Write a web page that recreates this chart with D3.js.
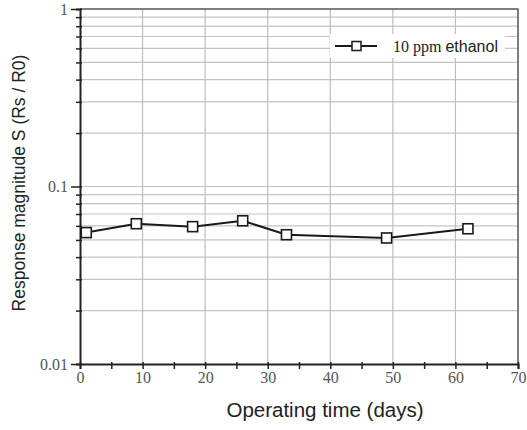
<!DOCTYPE html>
<html>
<head>
<meta charset="utf-8">
<script src="https://cdn.jsdelivr.net/npm/d3@7"></script>
<style>
  body { margin: 0; background: #fff; }
  svg { display: block; }
</style>
</head>
<body>
<svg id="chart" width="527" height="430"></svg>
<script>
// operating time (days) and response S = Rs/R0
const days = [1, 9, 18, 26, 33, 49, 62]
const response = [0.055, 0.0617, 0.0594, 0.0641, 0.0535, 0.0513, 0.0578]
const xTicks = [0, 10, 20, 30, 40, 50, 60, 70]
const yTicks = [0.01, 0.1, 1]
const seriesName = '10 ppm ethanol'

const margin = { top: 9, right: 9, bottom: 66, left: 80 }
const width = 527 - margin.left - margin.right
const height = 430 - margin.top - margin.bottom

const svg = d3
  .select('#chart')
  .append('g')
  .attr('transform', `translate(${margin.left}, ${margin.top})`)

const xScale = d3.scaleLinear().domain([0, 70]).range([0, width])
const yScale = d3.scaleLog().domain([0.01, 1]).range([height, 0])

// minor log values 0.02..0.09, 0.2..0.9
const minorY = []
;[0.01, 0.1].forEach(base => {
  for (let i = 2; i <= 9; i++) minorY.push(+(base * i).toFixed(3))
})
const gridY = minorY.concat([0.1])

// grid
svg
  .append('g')
  .selectAll('line')
  .data(gridY)
  .join('line')
  .attr('x1', 0)
  .attr('x2', width)
  .attr('y1', d => yScale(d))
  .attr('y2', d => yScale(d))
  .attr('stroke', '#c4c4c4')
  .attr('stroke-width', 1.2)

svg
  .append('g')
  .selectAll('line')
  .data(xTicks.slice(1, -1))
  .join('line')
  .attr('x1', d => xScale(d))
  .attr('x2', d => xScale(d))
  .attr('y1', 0)
  .attr('y2', height)
  .attr('stroke', '#bdbdbd')
  .attr('stroke-width', 1.2)

// frame (top and right)
svg
  .append('path')
  .attr('d', `M0,0H${width}V${height}`)
  .attr('fill', 'none')
  .attr('stroke', '#555')
  .attr('stroke-width', 1.5)

// legend background
const legend = svg.append('g').attr('transform', `translate(${335 - margin.left}, ${46 - margin.top})`)
legend
  .append('rect')
  .attr('x', -5)
  .attr('y', -12)
  .attr('width', 175)
  .attr('height', 24)
  .attr('fill', '#fff')

// axes
const xAxis = svg
  .append('g')
  .attr('transform', `translate(0, ${height})`)
  .call(
    d3
      .axisBottom(xScale)
      .tickValues(d3.range(0, 71, 5))
      .tickSize(5)
      .tickFormat(d => (d % 10 === 0 ? d : ''))
  )

const yAxis = svg.append('g').call(
  d3
    .axisLeft(yScale)
    .tickValues(yTicks.concat(minorY))
    .tickSize(4)
    .tickFormat(d => (yTicks.includes(d) ? d : ''))
)

;[xAxis, yAxis].forEach(ax => {
  ax.select('.domain').attr('stroke', '#222').attr('stroke-width', 2)
  ax.selectAll('.tick line').attr('stroke', '#222').attr('stroke-width', 1.5)
  ax.selectAll('text')
    .attr('font-family', '"Liberation Serif", "Times New Roman", serif')
    .attr('font-size', 16)
    .attr('fill', '#555')
})
xAxis.selectAll('.tick line').attr('y1', -2)
xAxis.selectAll('text').attr('y', 6).attr('dy', '0.8em')
yAxis.selectAll('.tick line').attr('x2', d => (yTicks.includes(d) ? -9 : -4)).attr('x1', 2)
yAxis.selectAll('text').attr('x', -12)

// series
const line = d3
  .line()
  .x((d, i) => xScale(days[i]))
  .y(d => yScale(d))

svg
  .append('path')
  .datum(response)
  .attr('d', line)
  .attr('fill', 'none')
  .attr('stroke', '#1a1a1a')
  .attr('stroke-width', 2)

svg
  .append('g')
  .selectAll('rect')
  .data(response)
  .join('rect')
  .attr('x', (d, i) => xScale(days[i]) - 5)
  .attr('y', d => yScale(d) - 5)
  .attr('width', 10)
  .attr('height', 10)
  .attr('fill', '#fff')
  .attr('stroke', '#1a1a1a')
  .attr('stroke-width', 1.6)

// legend
legend
  .append('line')
  .attr('x1', 0)
  .attr('x2', 42)
  .attr('stroke', '#1a1a1a')
  .attr('stroke-width', 2.2)
legend
  .append('rect')
  .attr('x', 17)
  .attr('y', -4.5)
  .attr('width', 9)
  .attr('height', 9)
  .attr('fill', '#fff')
  .attr('stroke', '#1a1a1a')
  .attr('stroke-width', 1.5)
const [num, word] = [seriesName.slice(0, 6), seriesName.slice(7)]
const legendText = legend
  .append('text')
  .attr('x', 58)
  .attr('dy', '0.35em')
  .attr('fill', '#222')
legendText
  .append('tspan')
  .attr('font-family', '"Liberation Serif", "Times New Roman", serif')
  .attr('font-size', 16)
  .text(num + ' ')
legendText
  .append('tspan')
  .attr('font-family', '"Liberation Sans", Arial, sans-serif')
  .attr('font-size', 16)
  .text(word)

// axis titles
svg
  .append('text')
  .attr('x', 245)
  .attr('y', height + 53)
  .attr('text-anchor', 'middle')
  .attr('font-family', '"Liberation Sans", Arial, sans-serif')
  .attr('font-size', 20.5)
  .attr('fill', '#222')
  .text('Operating time (days)')

svg
  .append('text')
  .attr('transform', `translate(${-55}, 174) rotate(-90)`)
  .attr('text-anchor', 'middle')
  .attr('font-family', '"Liberation Sans", Arial, sans-serif')
  .attr('font-size', 17.5)
  .attr('fill', '#222')
  .text('Response magnitude S (Rs / R0)')
</script>
</body>
</html>
